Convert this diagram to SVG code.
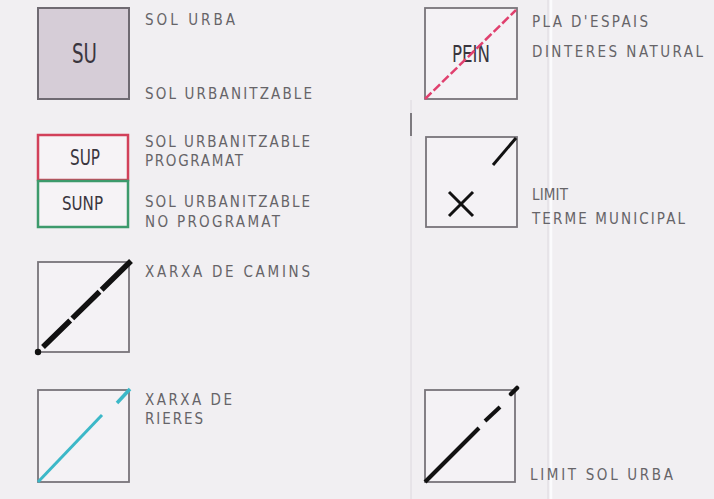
<svg xmlns="http://www.w3.org/2000/svg" width="714" height="499" viewBox="0 0 714 499">
<style>
.bg{fill:#f1eff2}
.box{fill:#f4f2f5;stroke:#78747a;stroke-width:1.8}
.lbl{font-family:"DejaVu Sans Condensed","Liberation Sans",sans-serif;font-size:15px;fill:#666468}
.code{font-family:"DejaVu Sans Condensed","Liberation Sans",sans-serif;fill:#3a363e}
.crease{stroke:#dcd8de;stroke-width:1}
</style>
<rect class="bg" x="0" y="0" width="714" height="499"/>
<g id="scan-marks">
<line class="crease" x1="411" y1="100" x2="411" y2="499"/>
<line x1="411" y1="113" x2="411" y2="136" stroke="#5a575c" stroke-width="1.5"/>
<line class="crease" x1="548" y1="0" x2="548" y2="499"/>
<line x1="551" y1="0" x2="551" y2="499" stroke="#fbfbfd" stroke-width="2.5"/>
</g>
<g id="sol-urba">
<rect x="38" y="8" width="91" height="91" fill="#d6cdd7" stroke="#6f6a72" stroke-width="2"/>
<text class="code" x="72" y="63" font-size="27" textLength="25" lengthAdjust="spacingAndGlyphs">SU</text>
<text class="lbl" x="145" y="25" textLength="90" lengthAdjust="spacing">SOL URBA</text>
<text class="lbl" x="145" y="99" textLength="167" lengthAdjust="spacing">SOL URBANITZABLE</text>
</g>
<g id="sol-urbanitzable-programat">
<rect x="38" y="135" width="90" height="45" fill="#f6f3f6" stroke="#d2405a" stroke-width="2.5"/>
<text class="code" x="70" y="165" font-size="22" textLength="30" lengthAdjust="spacingAndGlyphs">SUP</text>
<text class="lbl" x="145" y="147" textLength="165" lengthAdjust="spacing">SOL URBANITZABLE</text>
<text class="lbl" x="145" y="166" textLength="98" lengthAdjust="spacing">PROGRAMAT</text>
</g>
<g id="sol-urbanitzable-no-programat">
<rect x="38" y="181" width="90" height="46" fill="#f6f3f6" stroke="#3d9a6c" stroke-width="2.5"/>
<text class="code" x="62" y="210" font-size="20" textLength="41" lengthAdjust="spacingAndGlyphs">SUNP</text>
<text class="lbl" x="145" y="207" textLength="165" lengthAdjust="spacing">SOL URBANITZABLE</text>
<text class="lbl" x="145" y="227" textLength="135" lengthAdjust="spacing">NO PROGRAMAT</text>
</g>
<g id="xarxa-camins">
<rect class="box" x="38" y="262" width="91" height="90"/>
<circle cx="38" cy="352" r="3.2" fill="#111"/>
<line x1="43" y1="347" x2="131" y2="261" stroke="#111" stroke-width="5.5" stroke-dasharray="38 3 38 3 60"/>
<text class="lbl" x="145" y="277" textLength="165" lengthAdjust="spacing">XARXA DE CAMINS</text>
</g>
<g id="xarxa-rieres">
<rect class="box" x="38" y="390" width="91" height="92"/>
<line x1="38" y1="482" x2="102" y2="415" stroke="#3cb8c8" stroke-width="3"/>
<line x1="117" y1="403" x2="130" y2="389" stroke="#3cb8c8" stroke-width="3.5"/>
<text class="lbl" x="145" y="405" textLength="87" lengthAdjust="spacing">XARXA DE</text>
<text class="lbl" x="145" y="424" textLength="58" lengthAdjust="spacing">RIERES</text>
</g>
<g id="pein">
<rect class="box" x="425" y="8" width="92" height="91"/>
<text class="code" x="452" y="62" font-size="23" textLength="38" lengthAdjust="spacingAndGlyphs">PEIN</text>
<line x1="425" y1="99" x2="516" y2="10" stroke="#e0406e" stroke-width="2.5" stroke-dasharray="9 3"/>
<text class="lbl" x="532" y="27" textLength="116" lengthAdjust="spacing">PLA D'ESPAIS</text>
<text class="lbl" x="532" y="57" textLength="171" lengthAdjust="spacing">DINTERES NATURAL</text>
</g>
<g id="limit-terme">
<rect class="box" x="426" y="137" width="91" height="90"/>
<line x1="493" y1="165" x2="516" y2="138" stroke="#111" stroke-width="3"/>
<line x1="449" y1="192" x2="473" y2="216" stroke="#111" stroke-width="3"/>
<line x1="449" y1="216" x2="473" y2="192" stroke="#111" stroke-width="3"/>
<text class="lbl" x="532" y="200" textLength="36" lengthAdjust="spacing">LIMIT</text>
<text class="lbl" x="532" y="224" textLength="153" lengthAdjust="spacing">TERME MUNICIPAL</text>
</g>
<g id="limit-sol-urba">
<rect class="box" x="425" y="390" width="90" height="92"/>
<line x1="425" y1="482" x2="479" y2="428" stroke="#111" stroke-width="4"/>
<line x1="485" y1="421" x2="500" y2="407" stroke="#111" stroke-width="4"/>
<line x1="511" y1="394" x2="517" y2="388" stroke="#111" stroke-width="4.5" stroke-linecap="round"/>
<text class="lbl" x="530" y="480" textLength="143" lengthAdjust="spacing">LIMIT SOL URBA</text>
</g>
</svg>
